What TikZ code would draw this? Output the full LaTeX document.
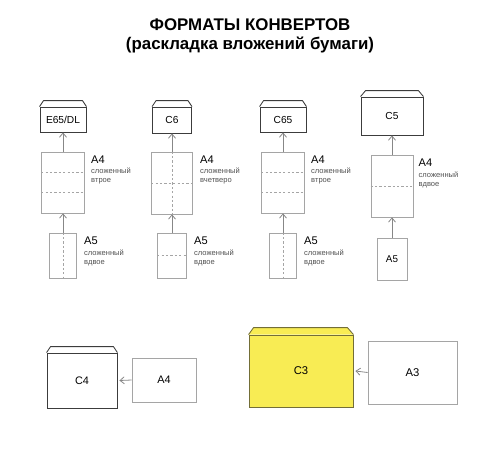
\documentclass[tikz,border=0pt]{standalone}
\usepackage{fontspec}
\setmainfont{Liberation Sans}
\definecolor{envline}{RGB}{60,60,60}
\definecolor{sheetline}{RGB}{165,165,165}
\definecolor{arrowgray}{RGB}{135,135,135}
\definecolor{notegray}{RGB}{80,80,80}
\definecolor{envyellow}{RGB}{248,236,84}
\definecolor{yellowline}{RGB}{115,110,55}
\usetikzlibrary{arrows.meta,positioning,calc}

\begin{document}
\begin{tikzpicture}[x=0.02cm, y=-0.02cm,
    env/.style={rectangle, draw=envline, line width=0.5pt, fill=white, inner sep=0pt,
                font=\fontsize{5.8}{7}\selectfont},
    sheet/.style={rectangle, draw=sheetline, line width=0.4pt, fill=white, inner sep=0pt,
                  font=\fontsize{5.6}{7}\selectfont},
    flap/.style={draw=envline, line width=0.5pt, line join=round, fill=white},
    fold/.style={sheetline, dash pattern=on 1.3pt off 1.2pt, line width=0.35pt},
    varr/.style={-{Straight Barb[length=2.4pt, width=4pt]}, line width=0.45pt, arrowgray},
    fmt/.style={font=\fontsize{6.3}{7}\selectfont, inner sep=0pt, anchor=north west},
    note/.style={font=\fontsize{4.3}{5.1}\selectfont, align=left, inner sep=0pt,
                 anchor=north west, text=notegray}
  ]
    \useasboundingbox (0,0) rectangle (500,450);

    % title
    \node[font=\bfseries\fontsize{9.6}{11}\selectfont, align=center] (title) at (250,36)
      {ФОРМАТЫ КОНВЕРТОВ\\(раскладка вложений бумаги)};

    % E65/DL
    \node[env, minimum width=0.92cm, minimum height=0.5cm] (dl) at (63,119.5) {E65/DL};
    \draw[flap] (dl.north west) -- ([xshift=0.08cm, yshift=0.12cm]dl.north west)
      -- ([xshift=-0.08cm, yshift=0.12cm]dl.north east) -- (dl.north east);
    \node[sheet, minimum width=0.86cm, minimum height=1.22cm] (dla4) at (63,182.5) {};
    \draw[fold] ($(dla4.north west)!1/3!(dla4.south west)$) -- ($(dla4.north east)!1/3!(dla4.south east)$);
    \draw[fold] ($(dla4.north west)!2/3!(dla4.south west)$) -- ($(dla4.north east)!2/3!(dla4.south east)$);
    \node[sheet, minimum width=0.54cm, minimum height=0.9cm] (dla5) at (63,255.5) {};
    \draw[fold] (dla5.north) -- (dla5.south);
    \draw[varr] (dla4.north) -- (dl.south);
    \draw[varr] (dla5.north) -- (dla4.south);
    \node[fmt] (dla4t) at ([xshift=0.12cm, yshift=-0.07cm]dla4.north east) {A4};
    \node[note] (dla4n) at ([yshift=-0.09cm]dla4t.south west) {сложенный\\втрое};
    \node[fmt] (dla5t) at ([xshift=0.14cm, yshift=-0.07cm]dla5.north east) {A5};
    \node[note] (dla5n) at ([yshift=-0.09cm]dla5t.south west) {сложенный\\вдвое};

    % C6
    \node[env, minimum width=0.78cm, minimum height=0.52cm] (csix) at (172,120) {C6};
    \draw[flap] (csix.north west) -- ([xshift=0.08cm, yshift=0.12cm]csix.north west)
      -- ([xshift=-0.08cm, yshift=0.12cm]csix.north east) -- (csix.north east);
    \node[sheet, minimum width=0.82cm, minimum height=1.24cm] (csixa4) at (172,183) {};
    \draw[fold] (csixa4.west) -- (csixa4.east);
    \draw[fold] (csixa4.north) -- (csixa4.south);
    \node[sheet, minimum width=0.58cm, minimum height=0.9cm] (csixa5) at (172,255.5) {};
    \draw[fold] (csixa5.west) -- (csixa5.east);
    \draw[varr] (csixa4.north) -- (csix.south);
    \draw[varr] (csixa5.north) -- (csixa4.south);
    \node[fmt] (csixa4t) at ([xshift=0.14cm, yshift=-0.07cm]csixa4.north east) {A4};
    \node[note] (csixa4n) at ([yshift=-0.09cm]csixa4t.south west) {сложенный\\вчетверо};
    \node[fmt] (csixa5t) at ([xshift=0.14cm, yshift=-0.07cm]csixa5.north east) {A5};
    \node[note] (csixa5n) at ([yshift=-0.09cm]csixa5t.south west) {сложенный\\вдвое};

    % C65
    \node[env, minimum width=0.92cm, minimum height=0.5cm] (csf) at (283,119.5) {C65};
    \draw[flap] (csf.north west) -- ([xshift=0.08cm, yshift=0.12cm]csf.north west)
      -- ([xshift=-0.08cm, yshift=0.12cm]csf.north east) -- (csf.north east);
    \node[sheet, minimum width=0.86cm, minimum height=1.22cm] (csfa4) at (283,182.5) {};
    \draw[fold] ($(csfa4.north west)!1/3!(csfa4.south west)$) -- ($(csfa4.north east)!1/3!(csfa4.south east)$);
    \draw[fold] ($(csfa4.north west)!2/3!(csfa4.south west)$) -- ($(csfa4.north east)!2/3!(csfa4.south east)$);
    \node[sheet, minimum width=0.54cm, minimum height=0.9cm] (csfa5) at (283,255.5) {};
    \draw[fold] (csfa5.north) -- (csfa5.south);
    \draw[varr] (csfa4.north) -- (csf.south);
    \draw[varr] (csfa5.north) -- (csfa4.south);
    \node[fmt] (csfa4t) at ([xshift=0.12cm, yshift=-0.07cm]csfa4.north east) {A4};
    \node[note] (csfa4n) at ([yshift=-0.09cm]csfa4t.south west) {сложенный\\втрое};
    \node[fmt] (csfa5t) at ([xshift=0.14cm, yshift=-0.07cm]csfa5.north east) {A5};
    \node[note] (csfa5n) at ([yshift=-0.09cm]csfa5t.south west) {сложенный\\вдвое};

    % C5
    \node[env, minimum width=1.24cm, minimum height=0.76cm] (cfive) at (392,116) {C5};
    \draw[flap] (cfive.north west) -- ([xshift=0.1cm, yshift=0.12cm]cfive.north west)
      -- ([xshift=-0.1cm, yshift=0.12cm]cfive.north east) -- (cfive.north east);
    \node[sheet, minimum width=0.84cm, minimum height=1.24cm] (cfivea4) at (392,186) {};
    \draw[fold] (cfivea4.west) -- (cfivea4.east);
    \node[sheet, minimum width=0.6cm, minimum height=0.84cm] (cfivea5) at (392,259) {A5};
    \draw[varr] (cfivea4.north) -- (cfive.south);
    \draw[varr] (cfivea5.north) -- (cfivea4.south);
    \node[fmt] (cfivea4t) at ([xshift=0.1cm, yshift=-0.08cm]cfivea4.north east) {A4};
    \node[note] (cfivea4n) at ([yshift=-0.09cm]cfivea4t.south west) {сложенный\\вдвое};

    % C4
    \node[env, minimum width=1.4cm, minimum height=1.1cm, font=\fontsize{6.2}{7}\selectfont] (cfour) at (82,380.5) {C4};
    \draw[flap] (cfour.north west) -- ([xshift=0.08cm, yshift=0.12cm]cfour.north west)
      -- ([xshift=-0.08cm, yshift=0.12cm]cfour.north east) -- (cfour.north east);
    \node[sheet, minimum width=1.28cm, minimum height=0.88cm, font=\fontsize{6.2}{7}\selectfont] (cfoura4) at (164,380) {A4};
    \draw[varr] (cfoura4.west) -- ([xshift=0.04cm]cfour.east);

    % C3
    \node[env, fill=envyellow, draw=yellowline, minimum width=2.08cm, minimum height=1.44cm,
          font=\fontsize{6.4}{7}\selectfont] (cthree) at (301,371) {C3};
    \draw[flap, fill=envyellow, draw=yellowline] (cthree.north west)
      -- ([xshift=0.1cm, yshift=0.14cm]cthree.north west)
      -- ([xshift=-0.12cm, yshift=0.14cm]cthree.north east) -- (cthree.north east);
    \node[sheet, minimum width=1.78cm, minimum height=1.26cm, font=\fontsize{6.4}{7}\selectfont] (cthreea3) at (412.5,372.5) {A3};
    \draw[varr] (cthreea3.west) -- ([xshift=0.04cm]cthree.east);
\end{tikzpicture}
\end{document}
